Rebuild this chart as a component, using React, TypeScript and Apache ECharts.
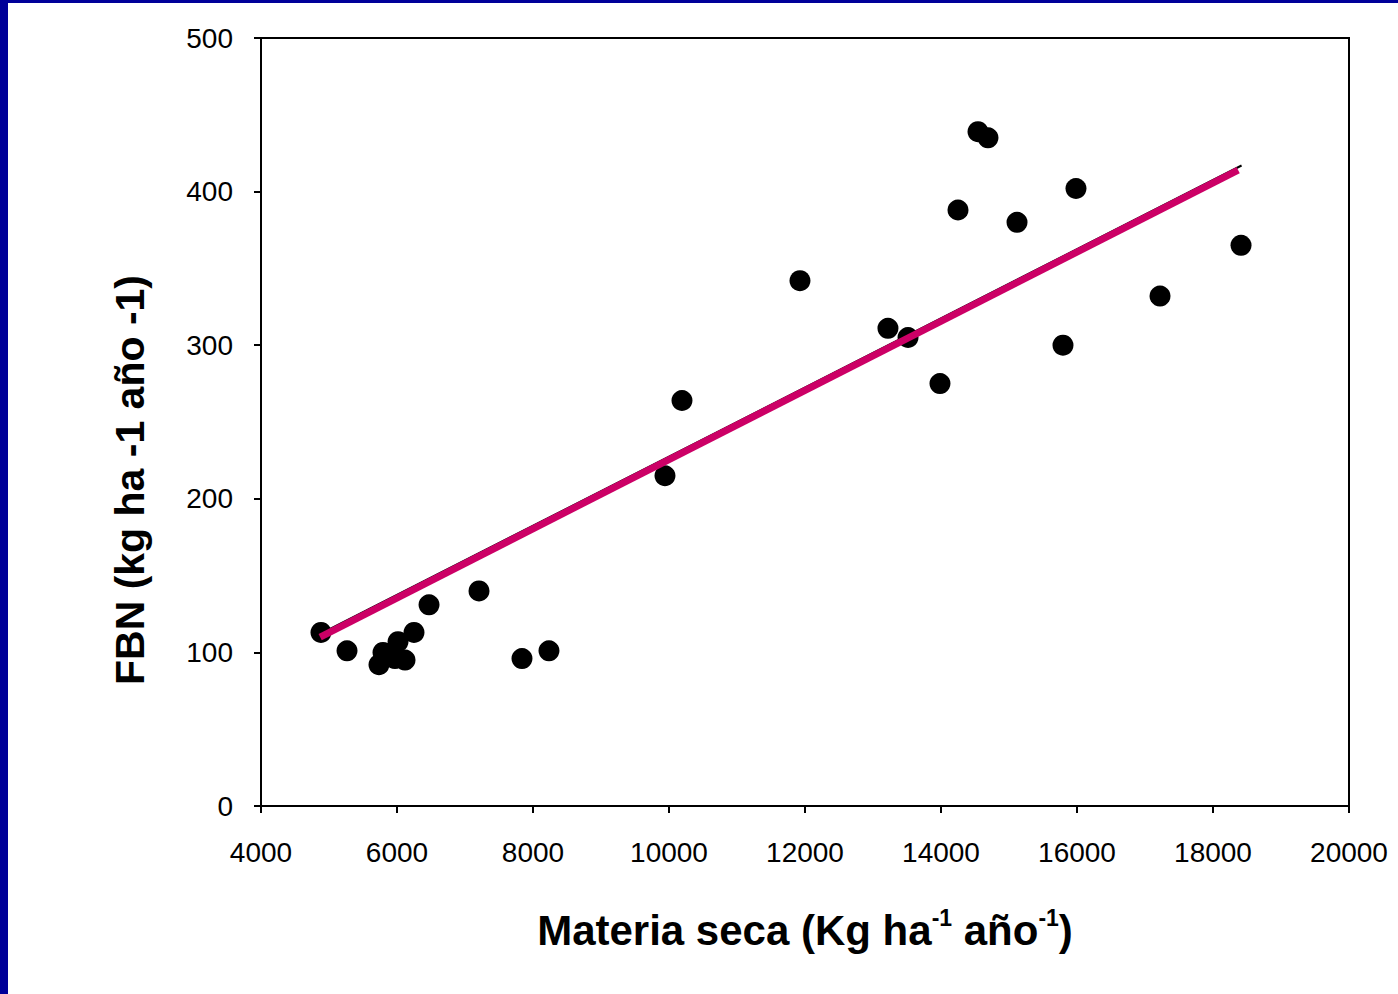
import React, { useEffect, useRef } from "react";
import * as echarts from "echarts";

// Materia seca (kg ha-1 año-1) and FBN (kg ha-1 año-1)
const materiaSeca = [4882, 5265, 5735, 5794, 5970, 6015, 6118, 6250, 6471, 7206, 7838, 8235, 9941, 10191, 11926, 13220, 13515, 13985, 14250, 14544, 14691, 15118, 15794, 15985, 17221, 18412];
const fbn = [113, 101, 92, 100, 96, 107, 95, 113, 131, 140, 96, 101, 215, 264, 342, 311, 305, 275, 388, 439, 435, 380, 300, 402, 332, 365];

// Regression line ends
const trendX = [4870, 18370];
const trendY = [110, 414];
const blackTrendX = [4870, 18420];
const blackTrendY = [112, 417];

const xTicks = { min: 4000, max: 20000, interval: 2000 };
const yTicks = { min: 0, max: 500, interval: 100 };

export default function App() {
  const ref = useRef<HTMLDivElement>(null);
  useEffect(() => {
    if (!ref.current) return;
    const chart = echarts.init(ref.current, undefined, { renderer: "svg" });
    const font = "'Liberation Sans', Arial, sans-serif";
    chart.setOption({
      animation: false,
      backgroundColor: "#ffffff",
      grid: {
        left: 261,
        top: 38,
        right: 49,
        bottom: 188,
        show: true,
        borderColor: "#000",
        borderWidth: 2,
        backgroundColor: "transparent",
      },
      xAxis: {
        type: "value",
        min: xTicks.min,
        max: xTicks.max,
        interval: xTicks.interval,
        splitLine: { show: false },
        axisLine: { show: true, onZero: false, lineStyle: { color: "#000", width: 2 } },
        axisTick: { show: true, length: 7, lineStyle: { color: "#000", width: 2 } },
        axisLabel: { color: "#000", fontSize: 28, fontFamily: font, margin: 32, formatter: (v: number) => String(v) },
        name: "{b|Materia seca (Kg ha}{s|-1}{b| año}{s|-1}{b|)}",
        nameLocation: "middle",
        nameGap: 100,
        nameTextStyle: {
          rich: {
            b: { fontSize: 42, fontWeight: "bold", fontFamily: font, color: "#000", lineHeight: 48 },
            s: { fontSize: 23, fontWeight: "bold", fontFamily: font, color: "#000", verticalAlign: "top", lineHeight: 48 },
          },
        },
      },
      yAxis: {
        type: "value",
        min: yTicks.min,
        max: yTicks.max,
        interval: yTicks.interval,
        splitLine: { show: false },
        axisLine: { show: true, lineStyle: { color: "#000", width: 2 } },
        axisTick: { show: true, length: 7, lineStyle: { color: "#000", width: 2 } },
        axisLabel: { color: "#000", fontSize: 28, fontFamily: font, margin: 28 },
      },
      graphic: [
        { type: "rect", left: 0, top: 0, shape: { width: 8, height: 994 }, style: { fill: "#000099" }, z: 100 },
        { type: "rect", left: 0, top: 0, shape: { width: 1398, height: 3 }, style: { fill: "#000099" }, z: 100 },
        {
          type: "text",
          x: 130,
          y: 480,
          rotation: Math.PI / 2,
          style: {
            text: "FBN (kg ha -1 año -1)",
            fontSize: 41,
            fontWeight: "bold",
            fontFamily: font,
            fill: "#000",
            align: "center",
            verticalAlign: "middle",
          },
        },
      ],
      series: [
        {
          type: "scatter",
          data: materiaSeca.map((x, i) => [x, fbn[i]]),
          symbol: "circle",
          symbolSize: 21,
          itemStyle: { color: "#000", opacity: 1 },
          z: 3,
        },
        {
          type: "line",
          data: blackTrendX.map((x, i) => [x, blackTrendY[i]]),
          showSymbol: false,
          lineStyle: { color: "#000", width: 2 },
          z: 4,
        },
        {
          type: "line",
          data: trendX.map((x, i) => [x, trendY[i]]),
          showSymbol: false,
          lineStyle: { color: "#cc0066", width: 7 },
          z: 5,
        },
      ],
    });
    return () => chart.dispose();
  }, []);
  return (
    <div
      ref={ref}
      style={{ position: "absolute", left: 0, top: 0, width: 1398, height: 994, background: "#fff" }}
    />
  );
}
